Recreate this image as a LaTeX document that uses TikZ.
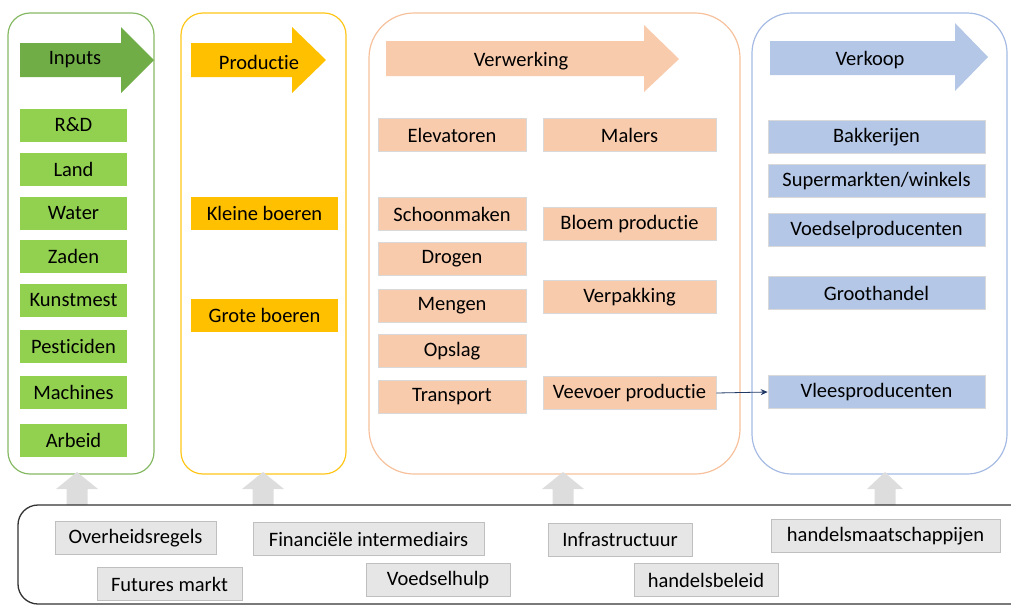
\documentclass[tikz,border=0pt]{standalone}
\usepackage{fontspec}
\setmainfont{Carlito}[Ligatures=NoCommon]
\usetikzlibrary{arrows.meta, positioning}

\definecolor{inpgreen}{HTML}{70AD47}
\definecolor{boxgreen}{HTML}{92D050}
\definecolor{prodyellow}{HTML}{FFC000}
\definecolor{procpeach}{HTML}{F8CBAD}
\definecolor{peachline}{HTML}{F4B183}
\definecolor{salesblue}{HTML}{B4C7E7}
\definecolor{blueline}{HTML}{8FAADC}
\definecolor{envgray}{HTML}{E7E6E6}
\definecolor{upgray}{HTML}{DDDDDD}
\definecolor{navyline}{HTML}{203864}

\tikzset{
  item/.style={minimum height=33pt, inner sep=0pt, font=\fontsize{20.5}{24}\selectfont},
  greenbox/.style={item, fill=boxgreen, minimum width=107pt},
  yellowbox/.style={item, fill=prodyellow, minimum width=147pt},
  peachbox/.style={item, fill=procpeach, draw=black!15, line width=0.6pt},
  bluebox/.style={item, fill=salesblue, draw=black!15, line width=0.6pt, minimum width=217pt},
  graybox/.style={item, fill=envgray, draw=black!25, line width=0.6pt},
  column/.style={line width=1.2pt},
  header/.style={font=\fontsize{20.5}{24}\selectfont}
}

\begin{document}
\begin{tikzpicture}[x=1pt, y=-1pt]
  \useasboundingbox (0,0) rectangle (1011,606);

  % ---- column frames ----
  \draw[column, inpgreen!85, rounded corners=22pt] (8,13) rectangle (154,474);
  \draw[column, prodyellow!90, rounded corners=22pt] (181,13) rectangle (346,474);
  \draw[column, peachline!80, rounded corners=45pt] (369,13) rectangle (740,474);
  \draw[column, blueline!80, rounded corners=40pt] (752,13) rectangle (1007,474);

  % ---- header arrows ----
  \fill[inpgreen] (20,43) -- (121,43) -- (121,27) -- (154,60) -- (121,93) -- (121,77) -- (20,77) -- cycle;
  \node[header] (inputs) at (75,60) {Inputs};
  \fill[prodyellow] (191,43) -- (292,43) -- (292,27) -- (326,60) -- (292,93) -- (292,77) -- (191,77) -- cycle;
  \node[header] (productie) at (259,62) {Productie};
  \fill[procpeach] (386,41) -- (644,41) -- (644,25) -- (679,59) -- (644,92) -- (644,76) -- (386,76) -- cycle;
  \node[header] (verwerking) at (521,61) {Verwerking};
  \fill[salesblue] (770,41) -- (955,41) -- (955,23) -- (988,57) -- (955,91) -- (955,75) -- (770,75) -- cycle;
  \node[header] (verkoop) at (870,60) {Verkoop};

  % ---- inputs ----
  \foreach \n/\y/\t in {rd/125/R\&D, land/169/Land, water/213/Water, zaden/256/Zaden,
                        kunstmest/300/Kunstmest, pesticiden/346/Pesticiden,
                        machines/392/Machines, arbeid/440/Arbeid}
    \node[greenbox] (\n) at (73.5,\y) {\t};

  % ---- productie ----
  \node[yellowbox] (kleine) at (264.5,213) {Kleine boeren};
  \node[yellowbox] (grote) at (264.5,315) {Grote boeren};

  % ---- verwerking ----
  \foreach \n/\y/\t in {elevatoren/135/Elevatoren, schoonmaken/214/Schoonmaken,
                        drogen/259/Drogen, mengen/306/Mengen, opslag/351/Opslag,
                        transport/397/Transport}
    \node[peachbox, minimum width=148pt] (\n) at (452,\y) {\t};
  \foreach \n/\y/\t in {malers/135/Malers, bloem/224/Bloem productie,
                        verpakking/297/Verpakking, veevoer/393/Veevoer productie}
    \node[peachbox, minimum width=173pt] (\n) at (629.5,\y) {\t};

  % ---- verkoop ----
  \foreach \n/\y/\t in {bakkerijen/137/Bakkerijen, supermarkten/181/{Supermarkten/winkels},
                        voedsel/230/Voedselproducenten, groothandel/293/Groothandel,
                        vlees/392/Vleesproducenten}
    \node[bluebox] (\n) at (876.5,\y) {\t};

  \draw[navyline, line width=0.8pt, -{Stealth[length=7pt, width=6pt]}] (veevoer.east) -- (vlees.west);

  % ---- omgeving ----
  \foreach \cx/\hw in {77/21, 263/21, 563/21, 885/18}
    \fill[upgray] (\cx-10.5,505) -- (\cx-10.5,489) -- (\cx-\hw,489) -- (\cx,472)
      -- (\cx+\hw,489) -- (\cx+10.5,489) -- (\cx+10.5,505) -- cycle;
  \draw[black!80, line width=1.3pt, rounded corners=20pt] (1011,505) -- (18,505) -- (18,604) -- (1011,604);

  \node[graybox, minimum width=161pt] (overheid) at (135.5,538) {Overheidsregels};
  \node[graybox, minimum width=145pt] (futures) at (169.5,584) {Futures markt};
  \node[graybox, minimum width=231pt] (financieel) at (368.5,539) {Financiële intermediairs};
  \node[graybox, minimum width=144pt] (voedselhulp) at (438,580) {Voedselhulp};
  \node[graybox, minimum width=144pt] (infra) at (620,540) {Infrastructuur};
  \node[graybox, minimum width=144pt] (beleid) at (706,580) {handelsbeleid};
  \node[graybox, minimum width=229pt] (maatschappijen) at (885.5,536) {handelsmaatschappijen};
\end{tikzpicture}
\end{document}
